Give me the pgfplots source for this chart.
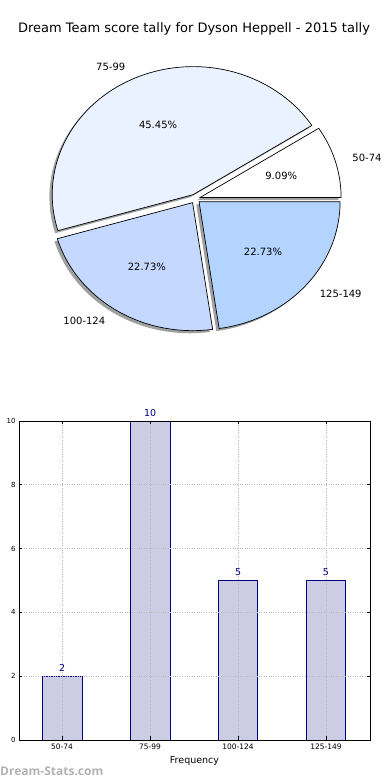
\documentclass[border=0pt]{standalone}
\usepackage{pgfplots}
\pgfplotsset{compat=1.18}
\usepackage{fontspec}
\setmainfont{DejaVu Sans}
\newfontfamily\wmfont{Open Sans}
\definecolor{c5074}{RGB}{255,255,255}
\definecolor{c7599}{RGB}{235,242,255}
\definecolor{c100}{RGB}{197,216,255}
\definecolor{c125}{RGB}{179,212,255}
\definecolor{shadowgray}{RGB}{160,160,160}
\definecolor{barfill}{RGB}{204,204,229}
\definecolor{navy}{RGB}{0,0,128}
\definecolor{wmgray}{RGB}{178,178,178}
\tikzset{pielab/.style={font=\fontsize{10}{12}\selectfont}}

\def\cx{195.3}\def\cy{581.2}\def\rx{141}\def\ry{128}\def\ex{5}\def\ey{4.6}\def\tot{22}

\newcommand\sliceangles[2]{%
 \pgfmathsetmacro\sA{#1/\tot*360}%
 \pgfmathsetmacro\sB{(#1+#2)/\tot*360}%
 \pgfmathsetmacro\sM{(\sA+\sB)/2}%
 \pgfmathsetmacro\ox{\cx+\ex*cos(\sM)}%
 \pgfmathsetmacro\oy{\cy+\ey*sin(\sM)}%
}
\newcommand\pieshadow[2]{%
 \sliceangles{#1}{#2}%
 \pgfmathsetmacro\sx{\ox-2.8}\pgfmathsetmacro\sy{\oy-2.6}%
 \edef\doplot{\noexpand\addplot[fill=shadowgray,draw=none,domain=\sA:\sB,samples=100] ({\sx+\rx*cos(x)},{\sy+\ry*sin(x)}) -- (axis cs:\sx,\sy) -- cycle;}%
 \doplot
}
\newcommand\pieslice[4]{%
 \sliceangles{#1}{#2}%
 \pgfmathsetmacro\pct{#2/\tot*100}%
 \pgfmathsetmacro\lx{\ox+1.1*\rx*cos(\sM)}%
 \pgfmathsetmacro\ly{\oy+1.1*\ry*sin(\sM)}%
 \pgfmathsetmacro\qx{\ox+0.6*\rx*cos(\sM)}%
 \pgfmathsetmacro\qy{\oy+0.6*\ry*sin(\sM)}%
 \ifdim\lx pt<\cx pt\def\anch{east}\else\def\anch{west}\fi
 \edef\doplot{\noexpand\addplot[fill=#3,draw=black,line width=0.7pt,domain=\sA:\sB,samples=100] ({\ox+\rx*cos(x)},{\oy+\ry*sin(x)}) -- (axis cs:\ox,\oy) -- cycle;
   \noexpand\node[pielab,anchor=\anch] at (axis cs:\lx,\ly) {#4};
   \noexpand\node[pielab] at (axis cs:\qx,\qy) {\noexpand\pgfmathprintnumber[fixed,fixed zerofill,precision=2,assume math mode=true]{\pct}\noexpand\%};}%
 \doplot
}

\begin{document}
\begin{tikzpicture}
\useasboundingbox (0,0) rectangle (390pt,780pt);
% pie
\begin{axis}[at={(0,0)}, anchor=south west, scale only axis, width=390pt, height=780pt,
  xmin=0, xmax=390, ymin=0, ymax=780, hide axis, clip=false]
 \pieshadow{0}{2}
 \pieshadow{2}{10}
 \pieshadow{12}{5}
 \pieshadow{17}{5}
 \pieslice{0}{2}{c5074}{50-74}
 \pieslice{2}{10}{c7599}{75-99}
 \pieslice{12}{5}{c100}{100-124}
 \pieslice{17}{5}{c125}{125-149}
\end{axis}
\node[font=\fontsize{13}{15}\selectfont, anchor=base] at (194pt,747pt) {Dream Team score tally for Dyson Heppell - 2015 tally};
% bars
\begin{axis}[at={(19pt,40pt)}, anchor=south west, scale only axis, width=351pt, height=319pt,
  xmin=-0.49, xmax=3.5, ymin=0, ymax=10,
  xtick={0,1,2,3}, xticklabels={50-74,75-99,100-124,125-149},
  ytick={0,2,4,6,8,10},
  grid=major, grid style={gray!55, dotted, line width=0.6pt},
  axis on top, clip=false,
  axis line style={line width=0.8pt},
  tick style={black, line width=0.6pt}, major tick length=3.5pt,
  xticklabel style={font=\fontsize{7.5}{9}\selectfont},
  yticklabel style={font=\fontsize{7}{8}\selectfont},
  /pgf/number format/assume math mode=true,
  xlabel={Frequency},
  xlabel style={font=\fontsize{9.5}{11}\selectfont, at={(axis description cs:0.5,0)}, anchor=north, inner sep=0pt, yshift=-16pt},
  ylabel={Score Interval},
  ylabel style={font=\fontsize{9.5}{11}\selectfont, at={(axis description cs:-0.054,0.5)}, anchor=south}]
 \addplot[ybar, bar width=0.45, fill=barfill, draw=navy, line width=0.7pt,
   nodes near coords, nodes near coords style={font=\fontsize{9.5}{11}\selectfont, text=navy, anchor=south, inner sep=0pt, yshift=4.5pt}]
   coordinates {(0,2) (1,10) (2,5) (3,5)};
\end{axis}
\node[font=\wmfont\bfseries\fontsize{12}{14}\selectfont, text=wmgray, anchor=base west, inner sep=0pt] at (0pt,5pt) {Dream-Stats.com};
\end{tikzpicture}
\end{document}
